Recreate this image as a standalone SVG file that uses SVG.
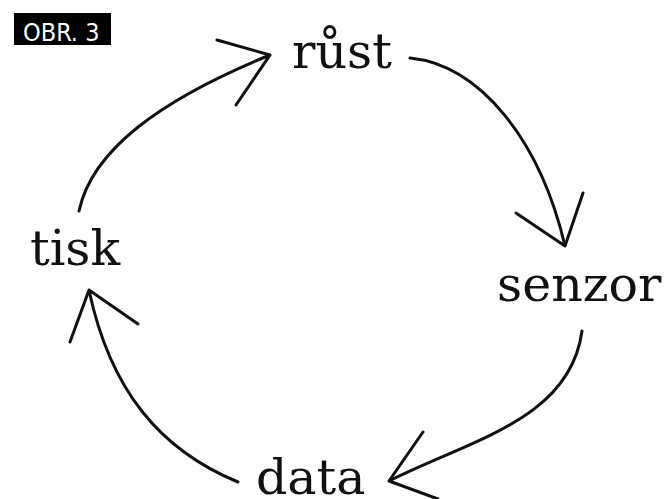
<svg xmlns="http://www.w3.org/2000/svg" width="668" height="499" viewBox="0 0 668 499">
  <style>
    .lbl { font-family: "DejaVu Serif", "Liberation Serif", serif; font-size: 49px; fill: #111; }
    .tag { font-family: "DejaVu Sans Condensed", "DejaVu Sans", sans-serif; font-size: 25px; fill: #fff; }
    .c { fill: none; stroke: #111; stroke-width: 3; stroke-linecap: round; stroke-linejoin: round; }
  </style>
  <rect width="668" height="499" fill="#fff"/>
  <g id="tag">
    <rect x="14" y="13" width="97" height="32" fill="#000"/>
    <text class="tag" x="23" y="41">OBR. 3</text>
  </g>
  <g id="rust"><text class="lbl" x="292" y="68">růst</text></g>
  <g id="senzor"><text class="lbl" x="497" y="301">senzor</text></g>
  <g id="data"><text class="lbl" x="256" y="494">data</text></g>
  <g id="tisk"><text class="lbl" x="30" y="265">tisk</text></g>
  <g id="connectors">
    <path class="c" d="M79,211 C 92,150 160,100 270,55 M217,40 L270,55 L236,105"/>
    <path class="c" d="M410,58 C 480,65 540,140 565,246 M516,213 L565,246 L583,193"/>
    <path class="c" d="M582,331 C 570,420 470,440 389,481 M423,432 L389,481 L438,499"/>
    <path class="c" d="M238,482 C 160,450 110,390 89,290 M70,342 L89,290 L138,324"/>
  </g>
</svg>
